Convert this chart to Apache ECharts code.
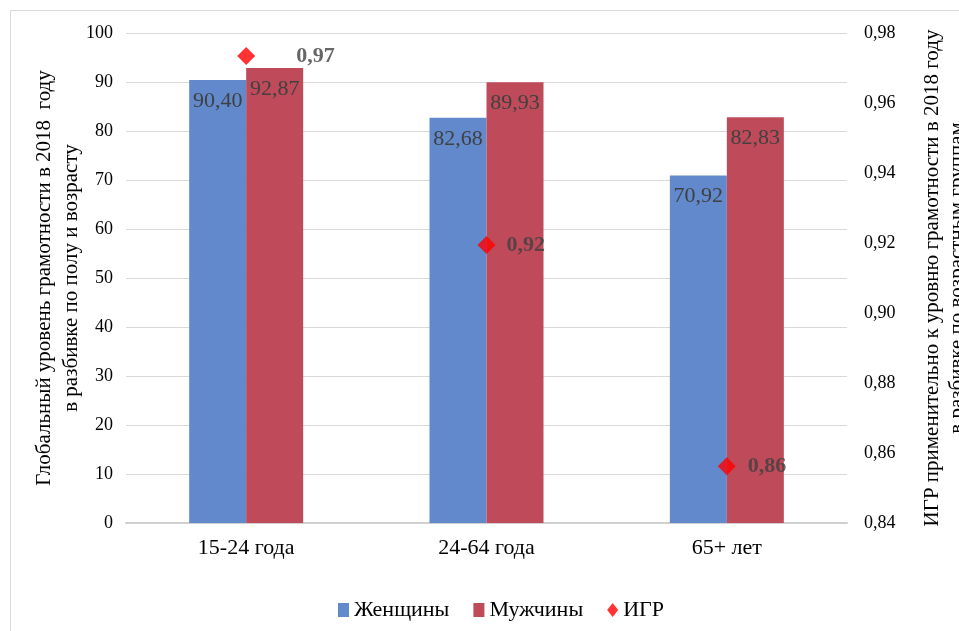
<!DOCTYPE html>
<html>
<head>
<meta charset="utf-8">
<script src="https://cdn.jsdelivr.net/npm/echarts@6/dist/echarts.min.js"></script>
<style>
html,body{margin:0;padding:0;background:#fff;}
#chart{width:959px;height:631px;}
</style>
</head>
<body>
<div id="chart"></div>
<script>
// Age groups
const categories = ['15-24 года', '24-64 года', '65+ лет'];
// Literacy rates by sex, %
const women = [90.40, 82.68, 70.92];
const men = [92.87, 89.93, 82.83];
// Gender parity index (women / men)
const gpi = [0.9734, 0.9194, 0.8562];

const leftTicks = { min: 0, max: 100, interval: 10 };
const rightTicks = { min: 0.84, max: 0.98, interval: 0.02 };

// Extra room for the first index label so it clears the taller bar
const gpiLabelDistance = [41, 11, 12];

const FONT = '"Liberation Serif", "Times New Roman", serif';
const comma = (v, d) => v.toFixed(d).replace('.', ',');

const chart = echarts.init(document.getElementById('chart'));
chart.setOption({
  animation: false,
  textStyle: { fontFamily: FONT },
  graphic: [{
    type: 'rect',
    shape: { x: 10.5, y: 10.5, width: 1000, height: 700 },
    style: { fill: 'none', stroke: '#d9d9d9', lineWidth: 1 },
    silent: true
  }],
  grid: { left: 126, right: 112, top: 33, bottom: 108, outerBoundsMode: 'none', containLabel: false },
  legend: {
    top: 594,
    left: 333,
    itemGap: 24,
    itemWidth: 11,
    itemHeight: 14,
    textStyle: { fontFamily: FONT, fontSize: 22, color: '#000' },
    data: [
      { name: 'Женщины', icon: 'rect' },
      { name: 'Мужчины', icon: 'rect' },
      { name: 'ИГР', icon: 'diamond' }
    ]
  },
  xAxis: {
    type: 'category',
    data: categories,
    axisLine: { lineStyle: { color: '#d0d0d0', width: 2 } },
    axisTick: { show: false },
    axisLabel: { fontFamily: FONT, fontSize: 22, color: '#000', margin: 14 }
  },
  yAxis: [{
    type: 'value',
    min: leftTicks.min, max: leftTicks.max, interval: leftTicks.interval,
    name: 'Глобальный уровень грамотности в 2018  году\nв разбивке по полу и возрасту',
    nameLocation: 'middle',
    nameRotate: 90,
    nameGap: 41,
    nameMoveOverlap: false,
    nameTextStyle: { fontFamily: FONT, fontSize: 21, color: '#000', lineHeight: 27 },
    axisLabel: { fontFamily: FONT, fontSize: 18, color: '#000', margin: 13 },
    splitLine: { lineStyle: { color: '#d9d9d9', width: 1 } },
    axisLine: { show: false },
    axisTick: { show: false }
  }, {
    type: 'value',
    position: 'right',
    min: rightTicks.min, max: rightTicks.max, interval: rightTicks.interval,
    name: 'ИГР применительно к уровню грамотности в 2018 году\nв разбивке по возрастным группам',
    nameLocation: 'middle',
    nameRotate: 90,
    nameGap: 73,
    nameTextStyle: { fontFamily: FONT, fontSize: 21, color: '#000', lineHeight: 25 },
    axisLabel: { fontFamily: FONT, fontSize: 18, color: '#000', margin: 17,
      formatter: v => comma(v, 2) },
    splitLine: { show: false },
    axisLine: { show: false },
    axisTick: { show: false }
  }],
  series: [{
    name: 'Женщины',
    type: 'bar',
    data: women,
    barWidth: 57,
    barGap: '0%',
    itemStyle: { color: '#6189cc' },
    label: {
      show: true, position: 'insideTop', distance: 10,
      fontFamily: FONT, fontSize: 22, color: '#404040',
      formatter: p => comma(p.value, 2)
    }
  }, {
    name: 'Мужчины',
    type: 'bar',
    data: men,
    barWidth: 57,
    itemStyle: { color: '#bf4b5a' },
    label: {
      show: true, position: 'insideTop', distance: 10,
      fontFamily: FONT, fontSize: 22, color: '#404040',
      formatter: p => comma(p.value, 2)
    }
  }, {
    name: 'ИГР',
    type: 'scatter',
    yAxisIndex: 1,
    data: gpi.map((v, i) => ({ value: v, label: { distance: gpiLabelDistance[i] } })),
    symbol: 'diamond',
    symbolSize: 18,
    itemStyle: { color: '#ff0000' },
    z: 5,
    label: {
      show: true, position: 'right', distance: 9,
      fontFamily: FONT, fontSize: 22, fontWeight: 'bold', color: '#404040',
      formatter: p => comma(p.value, 2)
    }
  }]
});
</script>
</body>
</html>
